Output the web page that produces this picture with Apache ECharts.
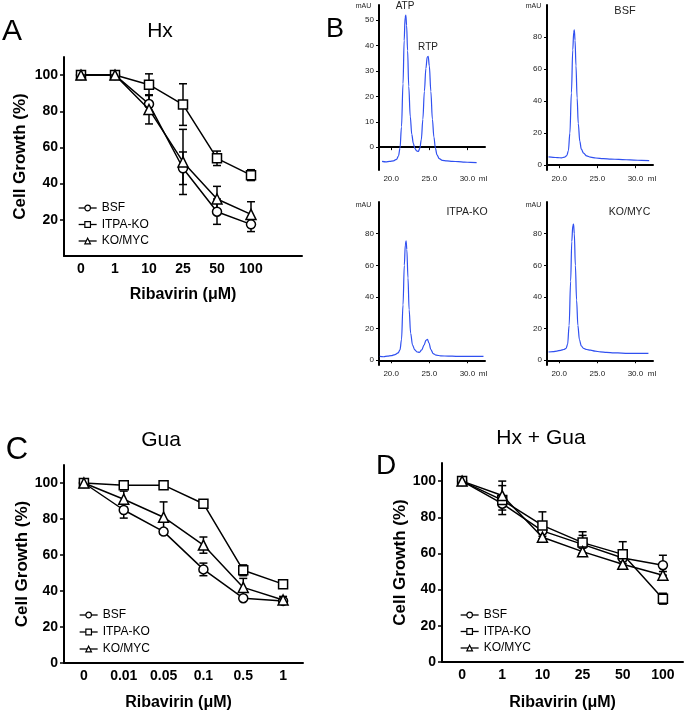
<!DOCTYPE html>
<html><head><meta charset="utf-8">
<script src="https://cdn.jsdelivr.net/npm/echarts@6/dist/echarts.min.js"></script>
<style>html,body{margin:0;padding:0;background:#fff}#c{width:685px;height:714px}</style>
</head><body><div id="c"></div>
<script>
const FONT = 'Arial, "Liberation Sans", Helvetica, sans-serif';
const seriesNames = ['BSF', 'ITPA-KO', 'KO/MYC'];
const growthTicks = [0, 20, 40, 60, 80, 100];

// Panel A: Hx
const doseHx = ['0', '1', '10', '25', '50', '100'];
const hxBSF = [100, 100, 84, 48.5, 24.5, 17.5];
const hxBSFErr = [0, 0, 5, 9, 7, 4];
const hxITPA = [100, 100, 94.7, 83.7, 54, 44.7];
const hxITPAErr = [0, 0, 6, 11.5, 4, 3];
const hxKOMYC = [100, 100, 81, 52, 31.5, 23];
const hxKOMYCErr = [0, 0, 8, 18, 7, 7];

// Panel C: Gua
const doseGua = ['0', '0.01', '0.05', '0.1', '0.5', '1'];
const guaBSF = [100, 85, 73, 52, 36, 34.5];
const guaBSFErr = [0, 4.5, 1.5, 3.5, 1, 1];
const guaITPA = [100, 98.8, 98.8, 88.5, 51.5, 43.8];
const guaITPAErr = [0, 1, 0.5, 2, 3, 1];
const guaKOMYC = [100, 91, 81, 65.5, 42, 35];
const guaKOMYCErr = [0, 4.5, 8.5, 4.5, 5, 2];

// Panel D: Hx + Gua
const doseHxGua = ['0', '1', '10', '25', '50', '100'];
const hgBSF = [100, 87.5, 72.5, 65, 57.5, 53.5];
const hgBSFErr = [0, 1.5, 3, 5, 3, 5.5];
const hgITPA = [100, 89.5, 75.5, 66, 59.5, 35];
const hgITPAErr = [0, 8, 7.5, 6, 7, 3];
const hgKOMYC = [100, 92, 69, 61, 54, 48];
const hgKOMYCErr = [0, 8, 2, 2, 2, 2];

// Panel B: HPLC chromatograms [ml, mAU]
const mlTicks = [20, 25, 30];
const stdTicks = [0, 10, 20, 30, 40, 50];
const mauTicks = [0, 20, 40, 60, 80];
const hplcStandard = [[18.8,-5.6],[19.3,-5.8],[19.8,-5.6],[20.3,-5.4],[20.7,-4.8],[20.95,-3.5],[21.15,-0.5],[21.35,8],[21.55,25],[21.7,42],[21.82,51],[21.92,52],[22.02,48],[22.15,38],[22.3,24],[22.5,12],[22.7,5],[22.9,1.5],[23.1,-0.5],[23.35,-1.5],[23.55,-1.7],[23.75,-0.5],[23.95,3],[24.15,11],[24.35,22],[24.55,31],[24.72,35.5],[24.85,35.8],[25.0,32],[25.2,22],[25.4,11],[25.6,4],[25.8,-0.5],[26.0,-3],[26.3,-4.5],[26.7,-5.2],[27.3,-5.4],[28.0,-5.6],[28.8,-5.7],[29.6,-5.9],[30.4,-6],[31.2,-6.1]];
const hplcBSF = [[18.6,5.2],[19.2,4.9],[19.8,4.7],[20.3,4.6],[20.7,5],[21.0,6],[21.2,9],[21.4,20],[21.6,45],[21.78,72],[21.9,83],[21.98,84.5],[22.08,78],[22.2,62],[22.35,42],[22.5,26],[22.7,15],[22.9,10],[23.2,7.5],[23.6,5.8],[24.1,5],[24.8,4.5],[25.8,4.1],[26.8,3.8],[27.8,3.6],[28.8,3.4],[29.8,3.2],[30.8,3.0],[31.8,2.9]];
const hplcITPA = [[18.5,2.4],[19.0,2.2],[19.5,2.6],[20.0,2.9],[20.5,3.6],[20.9,4.6],[21.15,6.5],[21.35,13],[21.55,35],[21.72,60],[21.85,73],[21.95,75.5],[22.05,70],[22.2,52],[22.35,32],[22.55,17],[22.8,9.5],[23.1,6.5],[23.4,5.2],[23.7,5],[24.0,6.5],[24.3,9.5],[24.55,12.5],[24.75,13.2],[24.95,11],[25.2,6.8],[25.5,4.2],[25.9,3.2],[26.5,2.8],[27.5,2.6],[28.5,2.5],[29.5,2.4],[30.5,2.5],[31.5,2.5],[32.1,2.4]];
const hplcKOMYC = [[18.6,5.2],[19.2,5.4],[19.7,5.8],[20.2,6.3],[20.6,6.8],[20.9,7.5],[21.1,10],[21.3,22],[21.5,50],[21.65,75],[21.78,85],[21.88,86],[21.98,80],[22.12,60],[22.28,38],[22.45,22],[22.65,13],[22.9,9],[23.2,7.5],[23.6,6.8],[24.1,6.4],[24.7,5.8],[25.4,5.3],[26.2,5],[27.2,4.7],[28.2,4.5],[29.2,4.3],[30.2,4.3],[31.2,4.4],[31.7,4.3]];

const chart = echarts.init(document.getElementById('c'), null, {renderer: 'canvas'});

const grids = [
  {left: 64, top: 57, width: 238, height: 199},   // 0 A
  {left: 379, top: 5, width: 106, height: 165},   // 1 B std
  {left: 547, top: 5, width: 106, height: 165},   // 2 B BSF
  {left: 379, top: 202, width: 106, height: 163}, // 3 B ITPA
  {left: 547, top: 202, width: 106, height: 163}, // 4 B KO/MYC
  {left: 64, top: 465, width: 239, height: 198},  // 5 C
  {left: 442, top: 463, width: 241, height: 199}  // 6 D
].map(g => Object.assign({outerBoundsMode: 'none', containLabel: false}, g));

const blackLine = {lineStyle: {color: '#000', width: 2}};
function growthX(gi, cats, gap, extra, pad) {
  return {
    type: 'category', gridIndex: gi, data: extra ? cats.concat(['']) : cats, boundaryGap: true,
    axisLine: blackLine,
    axisTick: {alignWithLabel: true, length: 4, lineStyle: {color: '#000', width: 1.5},
      interval: (i, v) => v !== ''},
    axisLabel: {interval: 0, color: '#000', fontWeight: 'bold', fontSize: 14, fontFamily: FONT, margin: 6},
    name: 'Ribavirin (\u03bcM)', nameLocation: 'middle', nameGap: gap,
    nameTextStyle: {fontWeight: 'bold', fontSize: 16, color: '#000', fontFamily: FONT, padding: pad || 0},
    splitLine: {show: false}
  };
}
function growthY(gi, gap, showZero) {
  const lab = showZero ? growthTicks : growthTicks.filter(v => v > 0);
  return {
    type: 'value', gridIndex: gi, min: 0, max: 110,
    axisLine: {show: true, lineStyle: {color: '#000', width: 2}},
    axisTick: {show: true, length: 4, lineStyle: {color: '#000', width: 1.5}, customValues: lab},
    axisLabel: {color: '#000', fontWeight: 'bold', fontSize: 14, fontFamily: FONT, margin: 6, customValues: lab},
    splitLine: {show: false},
    name: 'Cell Growth (%)', nameLocation: 'middle', nameRotate: 90, nameGap: gap,
    nameTextStyle: {fontWeight: 'bold', fontSize: 17, color: '#000', fontFamily: FONT}
  };
}
function hplcX(gi) {
  return {
    type: 'value', gridIndex: gi, min: 18.4, max: 32.3,
    axisLine: blackLine,
    axisTick: {show: true, length: 3, lineStyle: {color: '#000', width: 1}, customValues: mlTicks},
    axisLabel: {color: '#222', fontSize: 8, fontFamily: FONT, margin: 5, customValues: mlTicks,
      formatter: v => v.toFixed(1)},
    splitLine: {show: false}
  };
}
function hplcY(gi, min, max, ticks) {
  return {
    type: 'value', gridIndex: gi, min: min, max: max,
    axisLine: {show: true, lineStyle: {color: '#000', width: 2}},
    axisTick: {show: true, length: 3, lineStyle: {color: '#000', width: 1}, customValues: ticks},
    axisLabel: {color: '#222', fontSize: 8, fontFamily: FONT, margin: 5, customValues: ticks},
    splitLine: {show: false}
  };
}

const xAxes = [
  growthX(0, doseHx, 31, true),
  hplcX(1), hplcX(2), hplcX(3), hplcX(4),
  growthX(5, doseGua, 32, false, [0, 10, 0, 0]),
  growthX(6, doseHxGua, 33, false)
];
const yAxes = [
  growthY(0, 35, false),
  hplcY(1, -9, 56, stdTicks), hplcY(2, -3, 100, mauTicks), hplcY(3, -3, 100, mauTicks), hplcY(4, -3, 100, mauTicks),
  growthY(5, 32, true),
  growthY(6, 29, true)
];

const symbols = ['circle', 'rect', 'triangle'];
function errRender(params, api) {
  const x = api.value(0), v = api.value(1), e = api.value(2);
  if (!e) return null;
  const hi = api.coord([x, v + e]), lo = api.coord([x, v - e]);
  const cap = 4;
  const style = {stroke: '#000', lineWidth: 1.5, fill: null};
  return {type: 'group', children: [
    {type: 'line', shape: {x1: hi[0], y1: hi[1], x2: lo[0], y2: lo[1]}, style: style},
    {type: 'line', shape: {x1: hi[0] - cap, y1: hi[1], x2: hi[0] + cap, y2: hi[1]}, style: style},
    {type: 'line', shape: {x1: lo[0] - cap, y1: lo[1], x2: lo[0] + cap, y2: lo[1]}, style: style}
  ]};
}
const series = [];
function addPanel(ai, vals, errs) {
  vals.forEach((vs, k) => {
    series.push({
      type: 'custom', name: 'err' + ai + k, xAxisIndex: ai, yAxisIndex: ai, z: 1,
      renderItem: errRender, encode: {x: 0, y: 1},
      data: vs.map((v, i) => [i, v, errs[k][i]]), silent: true
    });
  });
  vals.forEach((vs, k) => {
    series.push({
      type: 'line', name: seriesNames[k], xAxisIndex: ai, yAxisIndex: ai, z: 2 + k,
      data: vs, symbol: symbols[k], symbolSize: k === 2 ? 10 : 9, showAllSymbol: true,
      lineStyle: {color: '#000', width: 1.5},
      itemStyle: {color: '#fff', borderColor: '#000', borderWidth: 1.5}
    });
  });
}
addPanel(0, [hxBSF, hxITPA, hxKOMYC], [hxBSFErr, hxITPAErr, hxKOMYCErr]);
addPanel(5, [guaBSF, guaITPA, guaKOMYC], [guaBSFErr, guaITPAErr, guaKOMYCErr]);
addPanel(6, [hgBSF, hgITPA, hgKOMYC], [hgBSFErr, hgITPAErr, hgKOMYCErr]);
[hplcStandard, hplcBSF, hplcITPA, hplcKOMYC].forEach((d, k) => {
  series.push({
    type: 'line', name: 'hplc' + k, xAxisIndex: k + 1, yAxisIndex: k + 1, data: d,
    showSymbol: false, smooth: 0.35, smoothMonotone: 'x',
    lineStyle: {color: '#3050f0', width: 1.2}
  });
});

function legendAt(left, top, gap) {
  return {
    left: left, top: top, orient: 'vertical', data: seriesNames, itemWidth: 18, itemHeight: 7,
    itemGap: gap, selectedMode: false,
    itemStyle: {borderWidth: 1.2},
    lineStyle: {width: 1.3},
    textStyle: {fontSize: 12, lineHeight: 12, color: '#000', fontFamily: FONT}
  };
}

function txt(x, y, text, size, extra) {
  return {type: 'text', x: x, y: y, silent: true,
    style: Object.assign({text: text, fill: '#000', font: size + 'px ' + FONT, textAlign: 'center', textVerticalAlign: 'middle'}, extra || {})};
}
const graphic = [
  txt(12, 32, 'A', 30), txt(160, 31, 'Hx', 21),
  txt(335, 30, 'B', 27),
  txt(17, 450, 'C', 31), txt(161, 440, 'Gua', 21),
  txt(386, 466, 'D', 28), txt(541, 438, 'Hx + Gua', 21),
  txt(405, 6, 'ATP', 10, {fill: '#222'}), txt(428, 47, 'RTP', 10, {fill: '#222'}),
  txt(625, 11, 'BSF', 11, {fill: '#222'}),
  txt(467, 212, 'ITPA-KO', 10.5, {fill: '#222'}), txt(629.5, 212, 'KO/MYC', 10.5, {fill: '#222'}),
  txt(363.5, 6, 'mAU', 7, {fill: '#222'}), txt(533.5, 6, 'mAU', 7, {fill: '#222'}),
  txt(363.5, 205, 'mAU', 7, {fill: '#222'}), txt(533.5, 205, 'mAU', 7, {fill: '#222'}),
  txt(483, 179, 'ml', 8, {fill: '#222'}), txt(652, 179, 'ml', 8, {fill: '#222'}),
  txt(483, 374, 'ml', 8, {fill: '#222'}), txt(652, 374, 'ml', 8, {fill: '#222'})
];

chart.setOption({
  animation: false,
  backgroundColor: '#fff',
  grid: grids,
  xAxis: xAxes,
  yAxis: yAxes,
  legend: [legendAt(73, 197, 4.5), legendAt(74, 604, 5), legendAt(455, 604, 4.5)],
  graphic: graphic,
  series: series
});
</script></body></html>
